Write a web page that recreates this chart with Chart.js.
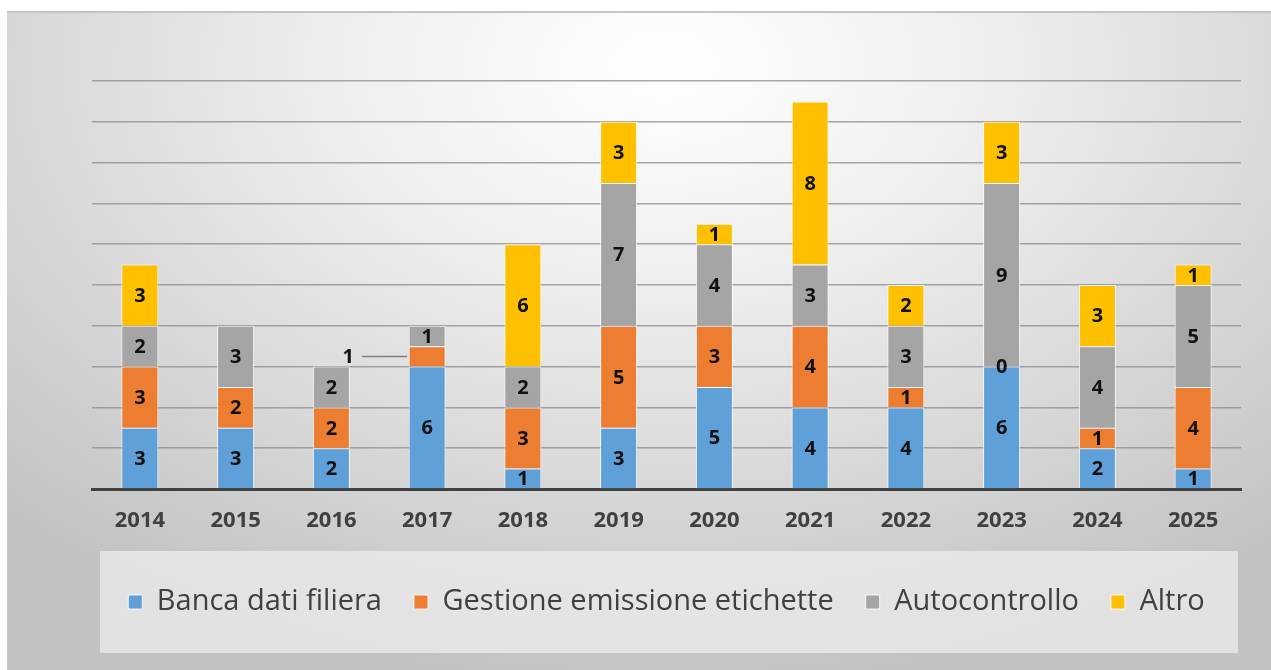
<!DOCTYPE html>
<html>
<head>
<meta charset="utf-8">
<script src="https://cdn.jsdelivr.net/npm/chart.js@4/dist/chart.umd.min.js"></script>
<style>
  html, body { margin: 0; padding: 0; background: #ffffff; }
  body { width: 1271px; height: 670px; position: relative; overflow: hidden; }
  #frame {
    position: absolute; left: 7px; top: 11px; width: 1264px; height: 659px;
    background: radial-gradient(ellipse 75% 95% at 52% 8%, #ffffff 0%, #eeeeee 35%, #d6d6d6 70%, #c2c2c2 100%);
    border-top: 2px solid #c4c4c4;
    box-sizing: border-box;
  }
  canvas { position: absolute; left: 0; top: 0; }
</style>
</head>
<body>
<div id="frame"><canvas id="c" width="1264" height="657"></canvas></div>
<script>
const categories = ['2014','2015','2016','2017','2018','2019','2020','2021','2022','2023','2024','2025'];
const bancaDati   = [3, 3, 2, 6, 1, 3, 5, 4, 4, 6, 2, 1];
const gestione    = [3, 2, 2, 1, 3, 5, 3, 4, 1, 0, 1, 4];
const autocontr   = [2, 3, 2, 1, 2, 7, 4, 3, 3, 9, 4, 5];
const altro       = [3, null, null, null, 6, 3, 1, 8, 2, 3, 3, 1];
const seriesNames = ['Banca dati filiera', 'Gestione emissione etichette', 'Autocontrollo', 'Altro'];
const seriesColors = ['#5FA0D8', '#ED7D31', '#A5A5A5', '#FFC000'];
const yMax = 20, yStep = 2;

const legendBox = {
  id: 'legendBox',
  beforeDraw(chart) {
    const ctx = chart.ctx;
    ctx.save();
    ctx.fillStyle = 'rgba(236,236,236,0.75)';
    ctx.fillRect(93, 538, 1138, 102);
    ctx.restore();
  }
};

const valueLabels = {
  id: 'valueLabels',
  afterDatasetsDraw(chart) {
    const ctx = chart.ctx;
    ctx.save();
    ctx.font = 'bold 20px "Open Sans"';
    ctx.fillStyle = '#111111';
    ctx.textAlign = 'center';
    ctx.textBaseline = 'middle';
    chart.data.datasets.forEach((ds, di) => {
      const meta = chart.getDatasetMeta(di);
      meta.data.forEach((el, i) => {
        const v = ds.data[i];
        if (v === null || v === undefined) return;
        const p = el.getProps(['x', 'y', 'base', 'width'], true);
        const cy = (p.y + p.base) / 2;
        if (di === 1 && i === 3) {
          ctx.strokeStyle = '#7f7f7f';
          ctx.lineWidth = 1.5;
          ctx.beginPath();
          ctx.moveTo(p.x - 65, cy);
          ctx.lineTo(p.x - 20, cy);
          ctx.stroke();
          ctx.fillText(String(v), p.x - 79, cy + 1);
        } else {
          ctx.fillText(String(v), p.x, cy + 1);
        }
      });
    });
    ctx.restore();
  }
};

const datasets = [bancaDati, gestione, autocontr, altro].map((d, k) => ({
  label: seriesNames[k],
  data: d,
  backgroundColor: seriesColors[k],
  borderColor: 'rgba(255,255,255,0.85)',
  borderWidth: 1,
  categoryPercentage: 0.8,
  barPercentage: 0.483
}));

new Chart(document.getElementById('c'), {
  type: 'bar',
  data: { labels: categories, datasets },
  options: {
    responsive: false,
    animation: false,
    layout: { padding: { left: 85, right: 30, top: 68, bottom: 43.5 } },
    plugins: {
      tooltip: { enabled: false },
      legend: {
        position: 'bottom',
        labels: {
          font: { family: '"Open Sans"', size: 29 },
          color: '#404040',
          boxWidth: 14,
          boxHeight: 14,
          padding: 32
        }
      }
    },
    scales: {
      x: {
        stacked: true,
        grid: { display: false, drawTicks: false },
        border: { display: true, color: '#404040', width: 3 },
        ticks: { font: { family: '"Open Sans"', size: 22, weight: 'bold' }, color: '#404040', padding: 19 },
        afterFit(scale) { scale.height = 66.5; }
      },
      y: {
        stacked: true,
        min: 0, max: yMax,
        ticks: { display: false, stepSize: yStep },
        grid: { color: 'rgba(140,140,140,0.75)', lineWidth: 1.5, drawTicks: false },
        border: { display: false },
        afterFit(scale) { scale.width = 0; }
      }
    }
  },
  plugins: [legendBox, valueLabels]
});
</script>
</body>
</html>
